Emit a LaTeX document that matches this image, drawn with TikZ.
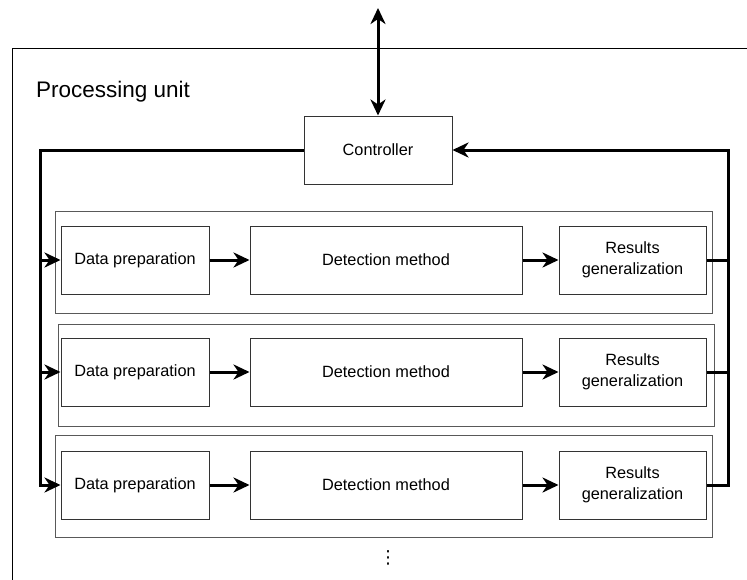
\documentclass[tikz,border=0pt]{standalone}
\usepackage{fontspec}
\setmainfont{Liberation Sans}
\newfontfamily\dejavu{DejaVu Sans}
\usetikzlibrary{arrows.meta}
\begin{document}
\begin{tikzpicture}[x=1pt,y=-1pt,
  box/.style={draw=black!80,line width=1pt,fill=white,inner sep=0pt,
    font=\fontsize{16.3}{20.5}\selectfont,align=center},
  grp/.style={draw=black!65,line width=1pt},
  bus/.style={line width=3pt},
  tip/.style={-{Stealth[length=16pt,width=15pt,inset=5pt]}},
  dtip/.style={{Stealth[length=16pt,width=15pt,inset=5pt]}-{Stealth[length=16pt,width=15pt,inset=5pt]}}]
\path[use as bounding box] (0,0) rectangle (747,579);
% outer processing unit frame (continues beyond the picture)
\draw[line width=1pt] (748,48) -- (12,48) -- (12,580);
\node[anchor=base west,font=\fontsize{22.5}{26}\selectfont,inner sep=0pt] (pu) at (36,97) {Processing unit};
% group frames
\draw[grp] (55,211) rectangle (712,313);
\draw[grp] (58,324) rectangle (714,426);
\draw[grp] (55,435) rectangle (712,537);
% controller
\node[box,minimum width=148pt,minimum height=68pt] (ctrl) at (378,150) {Controller};
\coordinate (ext) at (378,8);
% rows
\foreach \i/\y in {1/260,2/372,3/485}{
  \node[box,minimum width=148pt,minimum height=68pt] (dp\i) at (135,\y) {Data preparation};
  \node[box,minimum width=272pt,minimum height=68pt] (dm\i) at (386,\y) {Detection method};
  \node[box,minimum width=147pt,minimum height=68pt] (rg\i) at (632.5,\y) {Results\\generalization};
  \draw[bus,tip] (dp\i.east) -- (dm\i.west);
  \draw[bus,tip] (dm\i.east) -- (rg\i.west);
}
% external link
\draw[bus,dtip] (ext) -- (ctrl.north);
% left bus
\coordinate (lt) at (40,150);
\draw[bus,tip] (ctrl.west) -- (lt) |- (dp3.west);
\draw[bus,tip] (lt |- dp1.west) -- (dp1.west);
\draw[bus,tip] (lt |- dp2.west) -- (dp2.west);
% right bus
\coordinate (rt) at (728,150);
\draw[bus,tip] (rg3.east) -| (rt) -- (ctrl.east);
\draw[bus] (rg1.east) -- (rg1.east -| rt);
\draw[bus] (rg2.east) -- (rg2.east -| rt);
% continuation dots
\node[inner sep=0pt,font=\dejavu\fontsize{18}{20}\selectfont] (more) at (388,558) {⋮};
\end{tikzpicture}
\end{document}
